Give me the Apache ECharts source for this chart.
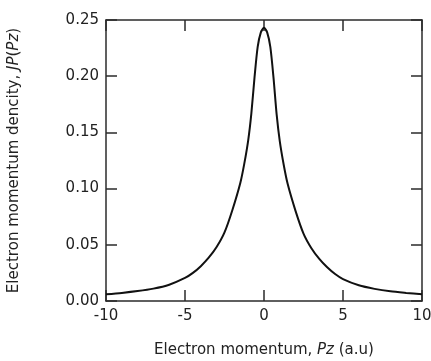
<!DOCTYPE html>
<html>
<head>
<meta charset="utf-8">
<script src="https://cdn.jsdelivr.net/npm/echarts@6/dist/echarts.min.js"></script>
<style>
  html, body { margin: 0; padding: 0; background: #fff; }
  #chart { width: 431px; height: 361px; }
</style>
</head>
<body>
<div id="chart"></div>
<script>
// momentum Pz (a.u) and Compton profile J(Pz)
const pz = [
  -10, -9, -8, -7, -6, -5, -4.5, -4, -3.5, -3, -2.5, -2, -1.5, -1.25, -1,
  -0.8, -0.6, -0.4, -0.2, 0,
  0.2, 0.4, 0.6, 0.8, 1, 1.25, 1.5, 2, 2.5, 3, 3.5, 4, 4.5, 5, 6, 7, 8, 9, 10
]
const jpz = [
  0.006, 0.0072, 0.0088, 0.011, 0.0145, 0.0205, 0.025, 0.031, 0.0385, 0.048, 0.061, 0.081, 0.105, 0.122, 0.143,
  0.167, 0.199, 0.226, 0.239, 0.243,
  0.239, 0.226, 0.199, 0.166, 0.142, 0.121, 0.104, 0.080, 0.060, 0.047, 0.0375, 0.030, 0.024, 0.0195, 0.014, 0.0108, 0.0086, 0.0072, 0.006
]
const yTicks = ['0.00', '0.05', '0.10', '0.15', '0.20', '0.25']

const font = 'DejaVu Sans'
const chart = echarts.init(document.getElementById('chart'))

const frameAxis = {
  axisLine: { show: true, onZero: false, lineStyle: { color: '#2b2b2b', width: 1.5 } },
  axisTick: { show: true, inside: true, length: 11, lineStyle: { color: '#2b2b2b', width: 1.5 } },
  splitLine: { show: false },
}

chart.setOption({
  animation: false,
  grid: { left: 106, right: 9, top: 20, bottom: 60, outerBoundsMode: 'none', containLabel: false },
  xAxis: [
    {
      type: 'value', min: -10, max: 10, interval: 5, position: 'bottom',
      ...frameAxis,
      axisLabel: { fontFamily: font, fontSize: 15, color: '#222', margin: 8 },
      name: 'Electron momentum, {i|Pz} (a.u)',
      nameLocation: 'middle', nameGap: 42,
      nameTextStyle: {
        fontFamily: font, fontSize: 15, color: '#222',
        rich: { i: { fontFamily: font, fontSize: 15, fontStyle: 'italic', color: '#222' } },
      },
    },
    {
      type: 'value', min: -10, max: 10, interval: 5, position: 'top',
      ...frameAxis,
      axisLabel: { show: false },
    },
  ],
  yAxis: [
    {
      type: 'value', min: 0, max: 0.25, interval: 0.05, position: 'left',
      ...frameAxis,
      axisLabel: {
        fontFamily: font, fontSize: 15, color: '#222', margin: 7,
        formatter: (v) => yTicks[Math.round(v / 0.05)],
      },
      name: 'Electron momentum dencity, {i|JP}({i|Pz})',
      nameLocation: 'middle', nameGap: 84, nameRotate: 90,
      nameTextStyle: {
        fontFamily: font, fontSize: 15, color: '#222',
        rich: { i: { fontFamily: font, fontSize: 15, fontStyle: 'italic', color: '#222' } },
      },
    },
    {
      type: 'value', min: 0, max: 0.25, interval: 0.05, position: 'right',
      ...frameAxis,
      axisLabel: { show: false },
    },
  ],
  series: [
    {
      type: 'line',
      xAxisIndex: 0,
      yAxisIndex: 0,
      data: pz.map((x, i) => [x, jpz[i]]),
      smooth: 0.25,
      showSymbol: false,
      lineStyle: { color: '#111', width: 2 },
    },
  ],
})
</script>
</body>
</html>
